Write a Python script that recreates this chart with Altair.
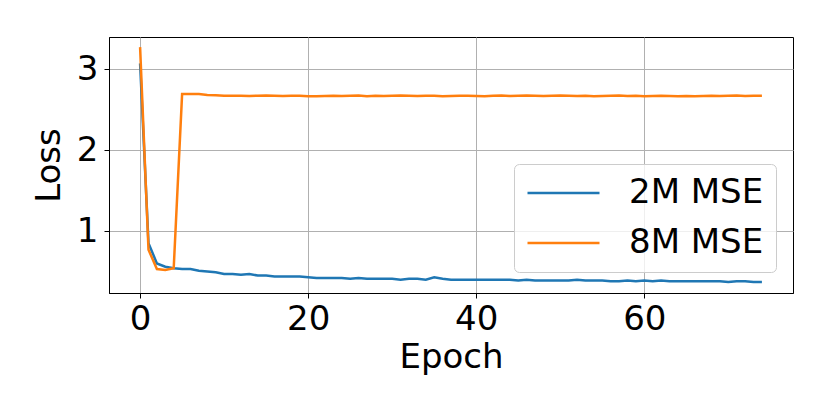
import altair as alt
import pandas as pd

epochs = list(range(75))
loss_2m = [3.07, 0.85, 0.60, 0.56, 0.54, 0.53, 0.53, 0.51, 0.50, 0.49,
           0.47, 0.47, 0.46, 0.47, 0.45, 0.45, 0.44, 0.44, 0.44, 0.44,
           0.43, 0.42, 0.42, 0.42, 0.42, 0.41, 0.42, 0.41, 0.41, 0.41,
           0.41, 0.40, 0.41, 0.41, 0.40, 0.43, 0.41, 0.40, 0.40, 0.40,
           0.40, 0.40, 0.40, 0.40, 0.40, 0.39, 0.40, 0.39, 0.39, 0.39,
           0.39, 0.39, 0.40, 0.39, 0.39, 0.39, 0.38, 0.38, 0.39, 0.38,
           0.39, 0.38, 0.39, 0.38, 0.38, 0.38, 0.38, 0.38, 0.38, 0.38,
           0.37, 0.38, 0.38, 0.37, 0.37]
loss_8m = [3.27, 0.77, 0.53, 0.52, 0.54, 2.69, 2.69, 2.69, 2.68, 2.675,
           2.67, 2.67, 2.67, 2.668, 2.67, 2.672, 2.67, 2.668, 2.67, 2.67,
           2.665, 2.665, 2.668, 2.67, 2.668, 2.67, 2.672, 2.665, 2.67, 2.668,
           2.67, 2.672, 2.67, 2.668, 2.67, 2.67, 2.665, 2.668, 2.67, 2.67,
           2.668, 2.665, 2.67, 2.672, 2.668, 2.67, 2.672, 2.67, 2.668, 2.67,
           2.672, 2.67, 2.668, 2.67, 2.665, 2.668, 2.67, 2.672, 2.668, 2.67,
           2.665, 2.668, 2.67, 2.668, 2.665, 2.668, 2.665, 2.668, 2.67, 2.668,
           2.67, 2.672, 2.668, 2.67, 2.67]
series_names = ["2M MSE", "8M MSE"]
series_colors = ["#1f77b4", "#ff7f0e"]
x_ticks = [0, 20, 40, 60]
y_ticks = [1, 2, 3]

df = pd.DataFrame({
    "Epoch": epochs * 2,
    "Loss": loss_2m + loss_8m,
    "Series": [series_names[0]] * len(epochs) + [series_names[1]] * len(epochs),
})

chart = alt.Chart(df).mark_line(strokeWidth=2.5).encode(
    x=alt.X("Epoch:Q",
            scale=alt.Scale(domain=[-3.7, 77.7], nice=False, zero=False),
            axis=alt.Axis(values=x_ticks, title="Epoch", labelPadding=4, titlePadding=4)),
    y=alt.Y("Loss:Q",
            scale=alt.Scale(domain=[0.235, 3.395], nice=False, zero=False),
            axis=alt.Axis(values=y_ticks, title="Loss", labelPadding=6, titlePadding=10)),
    color=alt.Color("Series:N",
                    scale=alt.Scale(domain=series_names, range=series_colors),
                    legend=alt.Legend(title=None, orient="none", legendX=405, legendY=127,
                                      symbolType="stroke", symbolSize=5184,
                                      symbolStrokeWidth=2.5, labelFontSize=34,
                                      clipHeight=34,
                                      labelOffset=28, rowPadding=16, padding=12,
                                      cornerRadius=5, strokeColor="#cccccc",
                                      fillColor="rgba(255,255,255,0.8)",
                                      labelColor="black", labelFont="DejaVu Sans")),
    order=alt.Order("Epoch:Q"),
).properties(
    width=684,
    height=256,
    background="white",
    autosize=alt.AutoSizeParams(type="none"),
    padding={"left": 101, "top": 29, "right": 20, "bottom": 100},
).configure_view(
    stroke="black", strokeWidth=1,
).configure_axis(
    labelFont="DejaVu Sans", titleFont="DejaVu Sans",
    labelFontSize=34, titleFontSize=34, titleFontWeight="normal",
    labelColor="black", titleColor="black",
    grid=True, gridColor="#b0b0b0", gridWidth=1,
    domainColor="black", tickColor="black", tickSize=5, tickWidth=1,
)

chart.save("out.html", embed_options={"renderer": "svg", "actions": False})
